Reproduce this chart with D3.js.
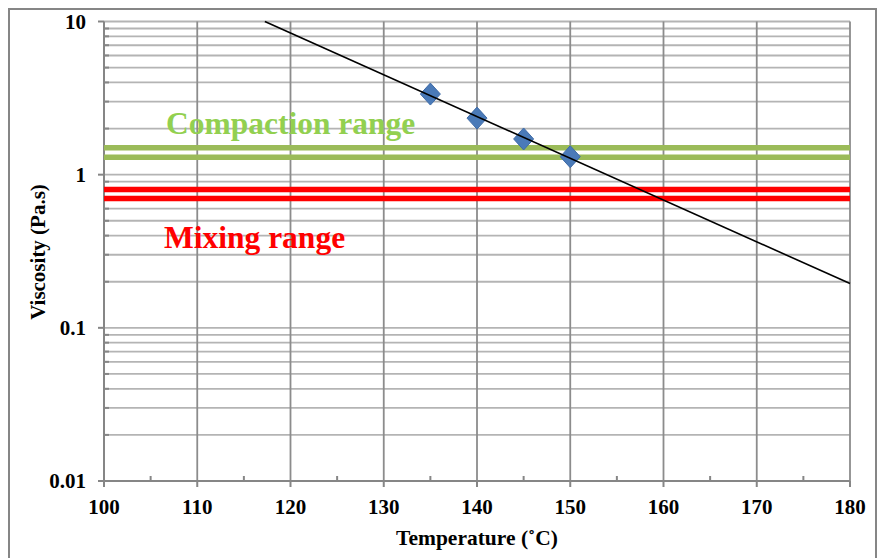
<!DOCTYPE html>
<html>
<head>
<meta charset="utf-8">
<script src="https://cdn.jsdelivr.net/npm/d3@7"></script>
<style>
  html, body { margin: 0; padding: 0; background: #fff; }
  svg { display: block; }
</style>
</head>
<body>
<svg id="chart" width="877" height="558"></svg>
<script>
// Measured viscosity at each test temperature
const temperatures = [135, 140, 145, 150];
const viscosities = [3.36, 2.34, 1.71, 1.31];

// Horizontal bands (Pa.s)
const compactionRange = [1.5, 1.3];
const mixingRange = [0.8, 0.7];

// Axis ticks
const xTicks = [100, 110, 120, 130, 140, 150, 160, 170, 180];
const xMinorTicks = [105, 115, 125, 135, 145, 155, 165, 175];
const yTicks = [0.01, 0.1, 1, 10];
const yTickLabels = ["0.01", "0.1", "1", "10"];

const FONT = "'Liberation Serif', 'Times New Roman', Times, 'DejaVu Serif', serif";

const svg = d3.select("#chart")
  .attr("font-family", FONT)
  .attr("font-weight", "bold");
const W = 877, H = 558;
const plot = { left: 104, right: 850, top: 21.5, bottom: 481 };

const x = d3.scaleLinear().domain([100, 180]).range([plot.left, plot.right]);
const y = d3.scaleLog().domain([0.01, 10]).range([plot.bottom, plot.top]);

// Outer frame
svg.append("rect")
  .attr("x", 9).attr("y", 9).attr("width", W - 10).attr("height", H)
  .attr("fill", "#fff").attr("stroke", "#868686").attr("stroke-width", 2);

// Minor log gridlines (2..9 within each decade) plus the decade lines
const yGrid = [];
for (let d = 0.01; d < 10 - 1e-9; d *= 10) {
  for (let k = 1; k <= 9; k++) yGrid.push(+(d * k).toPrecision(3));
}
yGrid.push(10);

svg.append("g").selectAll("line").data(yGrid).join("line")
  .attr("x1", plot.left).attr("x2", plot.right)
  .attr("y1", d => y(d)).attr("y2", d => y(d))
  .attr("stroke", "#b4b4b4").attr("stroke-width", 1.8);

// Vertical gridlines
svg.append("g").selectAll("line").data(xTicks.slice(1)).join("line")
  .attr("x1", d => x(d)).attr("x2", d => x(d))
  .attr("y1", plot.top).attr("y2", plot.bottom)
  .attr("stroke", "#8c8c8c").attr("stroke-width", 1.8);

// Y axis: major ticks outside, minor ticks inside
const yAxis = svg.append("g");
yAxis.append("line")
  .attr("x1", plot.left).attr("x2", plot.left)
  .attr("y1", plot.top).attr("y2", plot.bottom)
  .attr("stroke", "#868686").attr("stroke-width", 2);
yAxis.selectAll("line.major").data(yTicks).join("line").attr("class", "major")
  .attr("x1", plot.left - 6).attr("x2", plot.left)
  .attr("y1", d => y(d)).attr("y2", d => y(d))
  .attr("stroke", "#868686").attr("stroke-width", 2);
yAxis.selectAll("line.minor").data(yGrid.filter(v => !yTicks.includes(v))).join("line").attr("class", "minor")
  .attr("x1", plot.left).attr("x2", plot.left + 5)
  .attr("y1", d => y(d)).attr("y2", d => y(d))
  .attr("stroke", "#868686").attr("stroke-width", 2);
yAxis.selectAll("text").data(yTicks).join("text")
  .attr("x", 86).attr("y", d => y(d))
  .attr("dy", "0.34em")
  .attr("text-anchor", "end")
  .attr("font-size", 21)
  .attr("fill", "#000")
  .text((d, i) => yTickLabels[i]);

// X axis: major ticks outside, minor ticks inside
const xAxis = svg.append("g");
xAxis.append("line")
  .attr("x1", plot.left).attr("x2", plot.right)
  .attr("y1", plot.bottom).attr("y2", plot.bottom)
  .attr("stroke", "#868686").attr("stroke-width", 2);
xAxis.selectAll("line.major").data(xTicks).join("line").attr("class", "major")
  .attr("x1", d => x(d)).attr("x2", d => x(d))
  .attr("y1", plot.bottom).attr("y2", plot.bottom + 6)
  .attr("stroke", "#868686").attr("stroke-width", 2);
xAxis.selectAll("line.minor").data(xMinorTicks).join("line").attr("class", "minor")
  .attr("x1", d => x(d)).attr("x2", d => x(d))
  .attr("y1", plot.bottom - 5).attr("y2", plot.bottom)
  .attr("stroke", "#868686").attr("stroke-width", 2);
xAxis.selectAll("text").data(xTicks).join("text")
  .attr("x", d => x(d)).attr("y", 514)
  .attr("text-anchor", "middle")
  .attr("font-size", 21)
  .attr("fill", "#000")
  .text(d => d);

// Range bands
function band(values, color) {
  svg.append("g").selectAll("line").data(values).join("line")
    .attr("x1", plot.left).attr("x2", plot.right)
    .attr("y1", d => y(d)).attr("y2", d => y(d))
    .attr("stroke", color).attr("stroke-width", 5.5);
}
band(compactionRange, "#9bbb59");
band(mixingRange, "#ff0000");

svg.append("text")
  .attr("x", 166).attr("y", 134)
  .attr("font-size", 31.5).attr("fill", "#92d050")
  .text("Compaction range");
svg.append("text")
  .attr("x", 164).attr("y", 248)
  .attr("font-size", 31.5).attr("fill", "#ff0000")
  .text("Mixing range");

// Data markers
const pts = temperatures.map((t, i) => ({ t, v: viscosities[i] }));
svg.append("g").selectAll("path").data(pts).join("path")
  .attr("transform", d => `translate(${x(d.t)},${y(d.v)})`)
  .attr("d", "M0,-11 L10,0 L0,11 L-10,0 Z")
  .attr("fill", "#4a7ab8")
  .attr("stroke", "#3e6aa6").attr("stroke-width", 1);

// Exponential trendline: least squares on log10(viscosity)
const lx = temperatures, ly = viscosities.map(Math.log10);
const mx = d3.mean(lx), my = d3.mean(ly);
const slope = d3.sum(lx, (t, i) => (t - mx) * (ly[i] - my)) / d3.sum(lx, t => (t - mx) ** 2);
const icpt = my - slope * mx;
const tStart = (1 - icpt) / slope; // where the fit reaches 10 Pa.s
const trend = [tStart, 180].map(t => ({ t, v: Math.pow(10, icpt + slope * t) }));
svg.append("path")
  .datum(trend)
  .attr("d", d3.line().x(d => x(d.t)).y(d => y(d.v)))
  .attr("fill", "none").attr("stroke", "#000").attr("stroke-width", 1.6);

// Axis titles
svg.append("text")
  .attr("x", 477).attr("y", 545)
  .attr("text-anchor", "middle")
  .attr("font-size", 21.5).attr("fill", "#000")
  .text("Temperature (˚C)");
svg.append("text")
  .attr("transform", "translate(45,252) rotate(-90)")
  .attr("text-anchor", "middle")
  .attr("font-size", 21).attr("fill", "#000")
  .text("Viscosity (Pa.s)");
</script>
</body>
</html>
